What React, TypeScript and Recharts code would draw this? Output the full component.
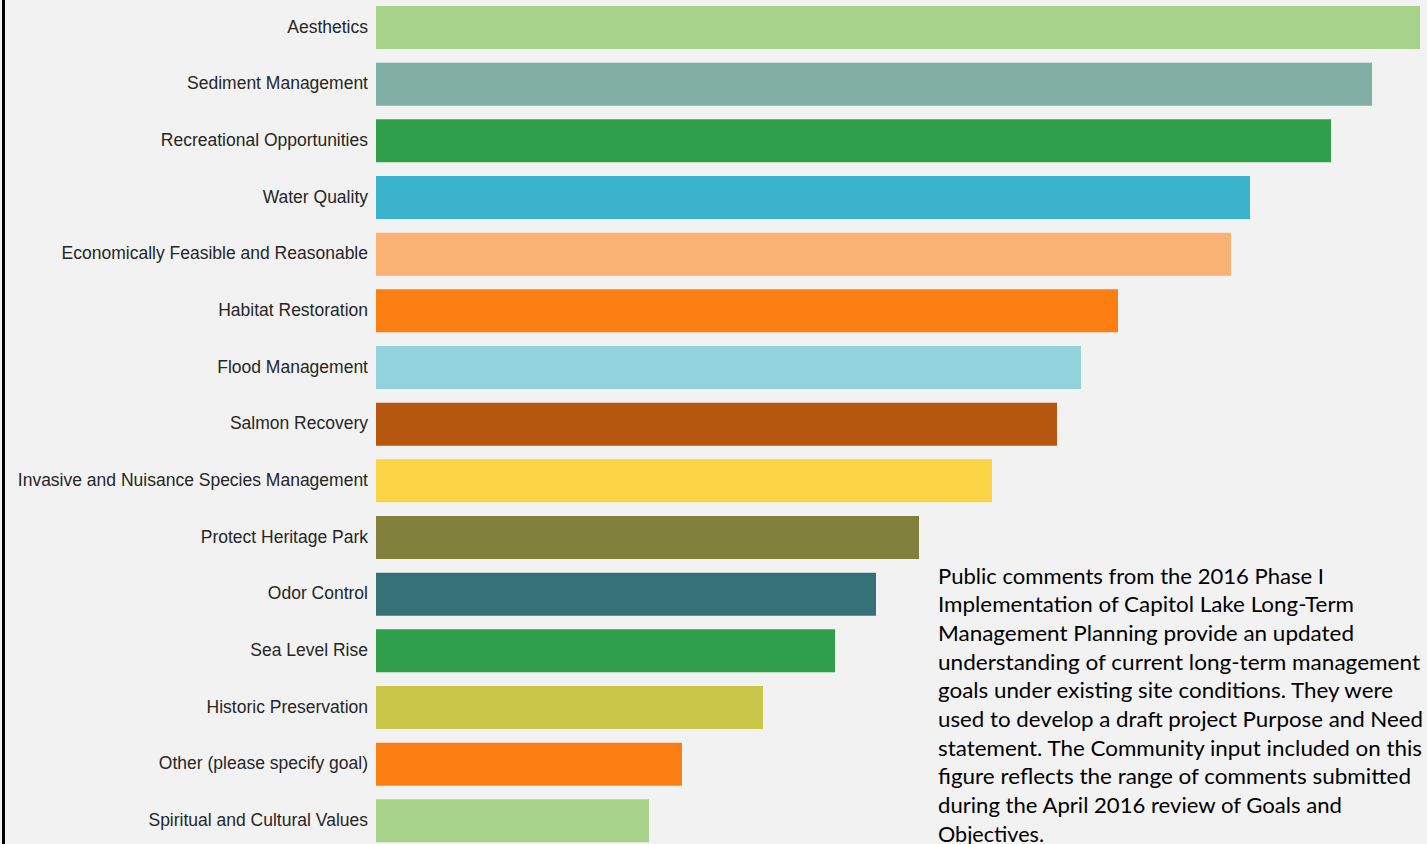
import React from "react";
import { BarChart, Bar, XAxis, YAxis, Cell } from "recharts";

const categories = [
  "Aesthetics",
  "Sediment Management",
  "Recreational Opportunities",
  "Water Quality",
  "Economically Feasible and Reasonable",
  "Habitat Restoration",
  "Flood Management",
  "Salmon Recovery",
  "Invasive and Nuisance Species Management",
  "Protect Heritage Park",
  "Odor Control",
  "Sea Level Rise",
  "Historic Preservation",
  "Other (please specify goal)",
  "Spiritual and Cultural Values",
];

const values = [104.4, 99.6, 95.5, 87.4, 85.5, 74.2, 70.5, 68.1, 61.6, 54.3, 50.0, 45.9, 38.7, 30.6, 27.3];

const colors = [
  "#a7d28a",
  "#80aea2",
  "#2f9f4c",
  "#3bb3cd",
  "#f9b273",
  "#fd7f14",
  "#92d2dc",
  "#b5570f",
  "#fbd446",
  "#80803a",
  "#367177",
  "#2f9f4c",
  "#c9c64a",
  "#fd7f14",
  "#a7d28a",
];

const noteLines = [
  "Public comments from the 2016 Phase I",
  "Implementation of Capitol Lake Long-Term",
  "Management Planning provide an updated",
  "understanding of current long-term management",
  "goals under existing site conditions. They were",
  "used to develop a draft project Purpose and Need",
  "statement. The Community input included on this",
  "figure reflects the range of comments submitted",
  "during the April 2016 review of Goals and",
  "Objectives.",
];
const noteWidths = [386, 416, 416, 482, 455, 485, 484, 473, 404, 106];

const data = categories.map((name, i) => ({ name, value: values[i] }));

export default function App() {
  return (
    <div
      style={{
        position: "fixed",
        left: 0,
        top: 0,
        width: 1427,
        height: 844,
        background: "#f2f2f2",
        overflow: "hidden",
      }}
    >
      <div style={{ position: "absolute", left: 0, top: -1 }}>
        <BarChart
          width={1427}
          height={850}
          data={data}
          layout="vertical"
          margin={{ top: 0, right: 7, bottom: 0, left: 0 }}
          barSize={43}
        >
          <XAxis type="number" domain={[0, 104.4]} hide />
          <YAxis
            type="category"
            dataKey="name"
            width={376}
            axisLine={false}
            tickLine={false}
            interval={0}
            dy={-1}
            tick={{ fill: "#262626", fontSize: 17.5, fontFamily: "Liberation Sans, Arial, sans-serif" }}
          />
          <Bar dataKey="value" isAnimationActive={false}>
            {data.map((d, i) => (
              <Cell key={d.name} fill={colors[i]} />
            ))}
          </Bar>
        </BarChart>
      </div>
      <div style={{ position: "absolute", left: 2, top: 0, width: 3, height: 844, background: "#000" }} />
      <svg style={{ position: "absolute", left: 0, top: 0 }} width={1427} height={844}>
        {noteLines.map((line, i) => (
          <text
            key={i}
            x={938}
            y={583.5 + i * 28.7}
            fontFamily="Lato, 'Open Sans', sans-serif"
            fontSize={20.5}
            fill="#000"
            textLength={noteWidths[i]}
            lengthAdjust="spacingAndGlyphs"
          >
            {line}
          </text>
        ))}
      </svg>
    </div>
  );
}
